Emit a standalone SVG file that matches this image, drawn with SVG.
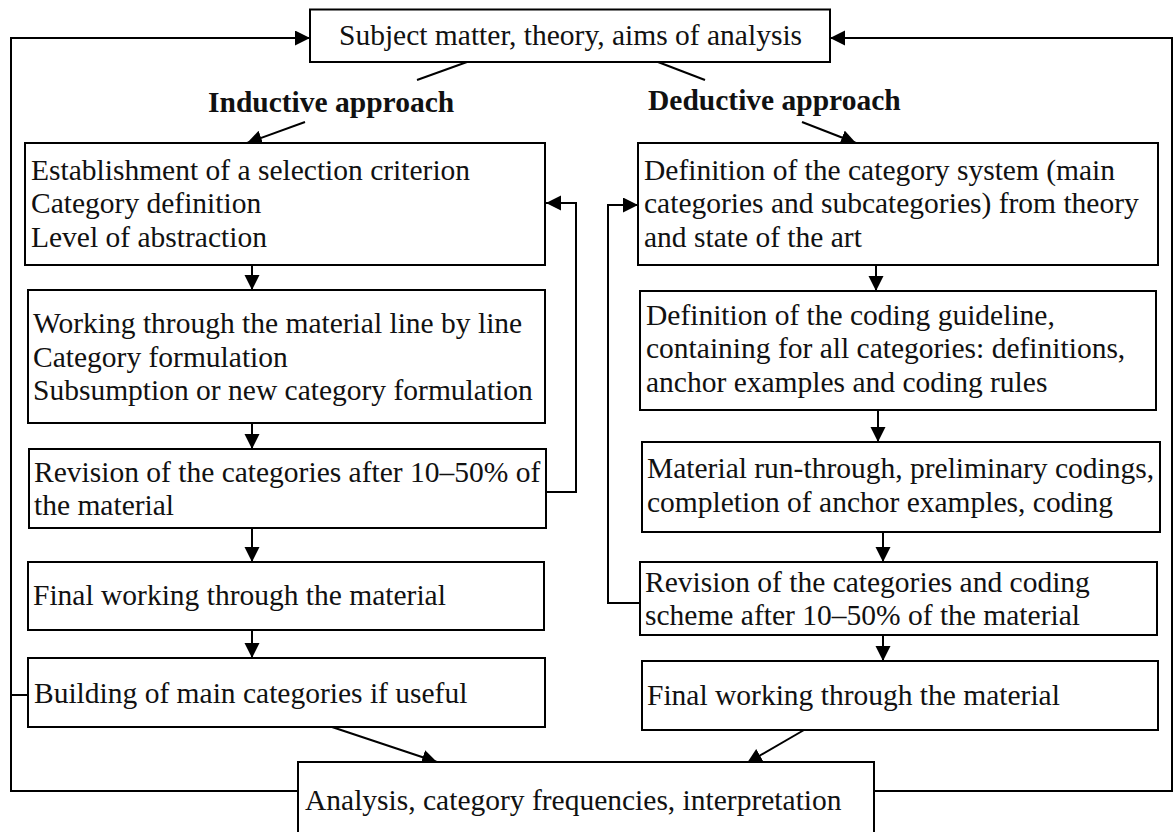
<svg xmlns="http://www.w3.org/2000/svg" width="1176" height="832" viewBox="0 0 1176 832">
  <defs>
    <marker id="arrow" markerUnits="userSpaceOnUse" markerWidth="16" markerHeight="16" refX="15" refY="7.5" orient="auto">
      <path d="M0,0 L15,7.5 L0,15 z" fill="#000"/>
    </marker>
    <style>
      .box { fill: #fff; stroke: #000; stroke-width: 2; }
      .t { font-family: "Liberation Serif", "Times New Roman", serif; font-size: 29.5px; fill: #111; }
      .h { font-family: "Liberation Serif", "Times New Roman", serif; font-size: 29.5px; font-weight: bold; fill: #111; }
      .ln { fill: none; stroke: #000; stroke-width: 2; }
      .arr { fill: none; stroke: #000; stroke-width: 2; marker-end: url(#arrow); }
    </style>
  </defs>
  <rect width="1176" height="832" fill="#fff"/>

  <!-- connectors -->
  <g id="connectors">
    <!-- outer loops back to the top box -->
    <polyline class="arr" points="298,791 11,791 11,38 310,38"/>
    <line class="ln" x1="11" y1="695" x2="28" y2="695"/>
    <polyline class="arr" points="874,791 1172,791 1172,38 830,38"/>
    <!-- top box to approach headings -->
    <line class="ln" x1="467" y1="62" x2="417" y2="80"/>
    <line class="ln" x1="658" y1="62" x2="705" y2="80"/>
    <line class="arr" x1="305" y1="122" x2="247" y2="143"/>
    <line class="arr" x1="802" y1="122" x2="856" y2="143"/>
    <!-- inductive column -->
    <line class="arr" x1="252" y1="265" x2="252" y2="290"/>
    <line class="arr" x1="252" y1="423" x2="252" y2="449"/>
    <line class="arr" x1="252" y1="528" x2="252" y2="562"/>
    <line class="arr" x1="252" y1="630" x2="252" y2="658"/>
    <polyline class="arr" points="546,492 576,492 576,203 546,203"/>
    <!-- deductive column -->
    <line class="arr" x1="876" y1="265" x2="876" y2="291"/>
    <line class="arr" x1="878" y1="410" x2="878" y2="442"/>
    <line class="arr" x1="883" y1="532" x2="883" y2="562"/>
    <line class="arr" x1="883" y1="635" x2="883" y2="661"/>
    <polyline class="arr" points="640,603 608,603 608,205 638,205"/>
    <!-- into the analysis box -->
    <line class="arr" x1="332" y1="727" x2="437" y2="762"/>
    <line class="arr" x1="804" y1="730" x2="747" y2="763"/>
  </g>

  <g id="top">
    <rect class="box" x="310" y="9.5" width="520" height="52.5"/>
    <text class="t" x="339" y="45">Subject matter, theory, aims of analysis</text>
  </g>

  <g id="headings">
    <text class="h" x="208" y="112">Inductive approach</text>
    <text class="h" x="648" y="110">Deductive approach</text>
  </g>

  <g id="ind1">
    <rect class="box" x="25" y="143" width="520" height="122"/>
    <text class="t" x="31" y="180">Establishment of a selection criterion</text>
    <text class="t" x="31" y="213">Category definition</text>
    <text class="t" x="31" y="247">Level of abstraction</text>
  </g>
  <g id="ind2">
    <rect class="box" x="28" y="290" width="517" height="133"/>
    <text class="t" x="33" y="333">Working through the material line by line</text>
    <text class="t" x="33" y="367">Category formulation</text>
    <text class="t" x="33" y="400">Subsumption or new category formulation</text>
  </g>
  <g id="ind3">
    <rect class="box" x="29" y="449" width="517" height="79"/>
    <text class="t" x="34" y="482">Revision of the categories after 10–50% of</text>
    <text class="t" x="34" y="515">the material</text>
  </g>
  <g id="ind4">
    <rect class="box" x="28" y="562" width="516" height="68"/>
    <text class="t" x="33" y="605">Final working through the material</text>
  </g>
  <g id="ind5">
    <rect class="box" x="28" y="658" width="517" height="69"/>
    <text class="t" x="34" y="703">Building of main categories if useful</text>
  </g>

  <g id="ded1">
    <rect class="box" x="638" y="143" width="520" height="122"/>
    <text class="t" x="644" y="180">Definition of the category system (main</text>
    <text class="t" x="644" y="213">categories and subcategories) from theory</text>
    <text class="t" x="644" y="247">and state of the art</text>
  </g>
  <g id="ded2">
    <rect class="box" x="640" y="291" width="516" height="119"/>
    <text class="t" x="646" y="325">Definition of the coding guideline,</text>
    <text class="t" x="646" y="358">containing for all categories: definitions,</text>
    <text class="t" x="646" y="392">anchor examples and coding rules</text>
  </g>
  <g id="ded3">
    <rect class="box" x="642" y="442" width="518" height="90"/>
    <text class="t" x="647" y="478">Material run-through, preliminary codings,</text>
    <text class="t" x="647" y="512">completion of anchor examples, coding</text>
  </g>
  <g id="ded4">
    <rect class="box" x="640" y="562" width="517" height="73"/>
    <text class="t" x="645" y="592">Revision of the categories and coding</text>
    <text class="t" x="645" y="625">scheme after 10–50% of the material</text>
  </g>
  <g id="ded5">
    <rect class="box" x="642" y="661" width="516" height="69"/>
    <text class="t" x="647" y="705">Final working through the material</text>
  </g>

  <g id="analysis">
    <rect class="box" x="298" y="762" width="576" height="90"/>
    <text class="t" x="305" y="810">Analysis, category frequencies, interpretation</text>
  </g>
</svg>
